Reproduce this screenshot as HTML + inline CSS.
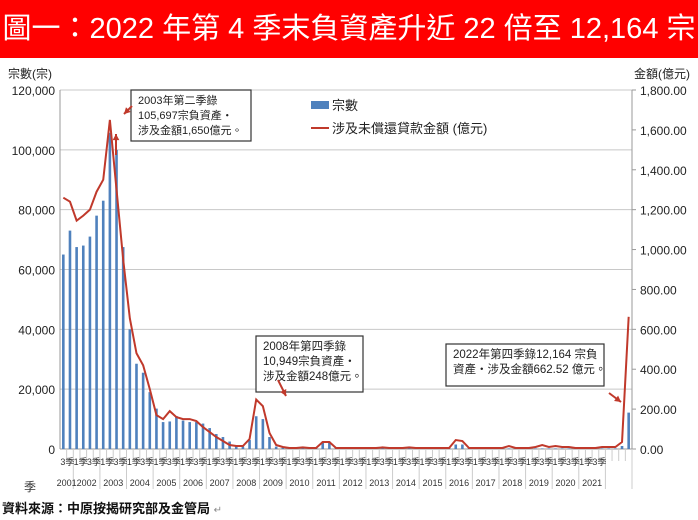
<!DOCTYPE html>
<html><head><meta charset="utf-8"><style>
body{margin:0;width:698px;height:520px;background:#fff;overflow:hidden;font-family:"Liberation Sans","Noto Sans CJK TC",sans-serif;}
#banner{position:absolute;left:0;top:0;width:698px;height:58px;background:#f00;color:#fff;font-size:29px;line-height:58px;text-align:center;letter-spacing:0px;font-family:"Liberation Sans","Noto Sans CJK TC",sans-serif;}
#src{position:absolute;left:2px;top:498px;font-size:13px;font-weight:bold;color:#111;}
</style></head><body>
<div id="banner">圖一：2022 年第 4 季末負資產升近 22 倍至 12,164 宗</div>
<svg id="chart" width="698" height="520" style="position:absolute;left:0;top:0"></svg>
<div id="src">資料來源：中原按揭研究部及金管局 <span style="font-weight:normal;color:#888;font-size:10px">↵</span></div>
<script>
const years=["2001","2002","2003","2004","2005","2006","2007","2008","2009","2010","2011","2012","2013","2014","2015","2016","2017","2018","2019","2020","2021","2022"];
const cases=[65000,73000,
67500,68000,71000,78000,
83000,105697,100000,67500,
40000,28500,25500,19000,
13500,9000,9200,11000,
9500,9000,9000,8500,
7000,5000,4000,2500,
1200,800,3000,10949,
10000,4000,800,400,
300,300,300,300,
300,2500,2500,300,
300,300,300,300,300,300,300,300,300,300,300,300,300,300,300,300,
300,1500,1500,300,
200,200,200,200,200,200,200,200,200,200,200,200,200,200,200,200,200,200,200,200,
200,200,1000,12164];
const amount=[1260,1240,
1145,1170,1200,1290,
1350,1650,1300,950,
655,480,420,300,
170,150,190,160,
150,150,140,110,
85,60,40,20,
15,15,50,248,
215,80,20,10,
5,5,8,5,
5,35,35,5,
5,5,5,5,5,5,8,5,5,5,8,5,5,5,5,5,
5,45,40,5,
5,5,5,5,
5,15,5,5,
5,10,20,10,
15,10,10,5,
5,5,5,10,
10,10,35,662.52];
const leftTicks=[0,20000,40000,60000,80000,100000,120000];
const rightTicks=[0,200,400,600,800,1000,1200,1400,1600,1800];
const NS="http://www.w3.org/2000/svg";
const svg=document.getElementById('chart');
const X0=60,X1=632,Y0=449,Y1=90;
const N=cases.length;
const step=(X1-X0)/N;
const xq=i=>X0+(i+0.5)*step;
const yl=v=>Y0-(v/120000)*(Y0-Y1);
const yr=v=>Y0-(v/1800)*(Y0-Y1);
function el(t,a,txt){const e=document.createElementNS(NS,t);for(const k in a)e.setAttribute(k,a[k]);if(txt!==undefined)e.textContent=txt;svg.appendChild(e);return e;}
// gridlines & left ticks
leftTicks.forEach(v=>{
 const g=el('line',{x1:X0,x2:X1,y1:yl(v),y2:yl(v),stroke:'#c8c8c8','stroke-width':1});
 
 
 const t=el('text',{x:55,y:yl(v)+5,'text-anchor':'end','font-size':12,fill:'#222'},v.toLocaleString('en-US'));
 
 
});
rightTicks.forEach(v=>{
 const tk=el('line',{x1:X1,x2:X1+4,y1:yr(v),y2:yr(v),stroke:'#999'});
 
 
 const t=el('text',{x:640,y:yr(v)+5,'font-size':12,fill:'#222'},v.toLocaleString('en-US',{minimumFractionDigits:2}));
 
 
});
el('line',{x1:X0,x2:X0,y1:Y1,y2:Y0,stroke:'#999'});
el('line',{x1:X1,x2:X1,y1:Y1,y2:Y0,stroke:'#999'});
el('line',{x1:X0,x2:X1,y1:Y0,y2:Y0,stroke:'#999'});
const lt=el('text',{x:8,y:78,'font-size':12,fill:'#222'},'宗數(宗)');

const rt=el('text',{x:690,y:78,'font-size':12,fill:'#222','text-anchor':'end'},'金額(億元)');

// bars
cases.forEach((v,i)=>{
 const b=el('rect',{x:xq(i)-1.3,y:yl(v),width:2.6,height:Y0-yl(v),fill:'#4f81bd'});
 
 
});
// line
const p=el('polyline',{points:amount.map((v,i)=>xq(i)+','+yr(v)).join(' '),fill:'none',stroke:'#c0392b','stroke-width':2});


// x axis category labels
for(let i=0;i<N;i++){
 el('line',{x1:xq(i)+step/2,x2:xq(i)+step/2,y1:Y0,y2:Y0+(((i+2)%4==3)?40:12),stroke:'#ccc'});
}
for(let i=0;i<N;i++){
 const q=(i+2)%4+1;
 const yi=Math.floor((i+2)/4);
 if((q===1||q===3)&&yi<21){
  const t=el('text',{x:xq(i)-3,y:465,'font-size':9,fill:'#333'},q+'季');
  
  
 }
}
years.forEach((y,k)=>{
 if(k>=21)return;
 let s=k===0?0:2+(k-1)*4, e=k===0?2:s+4;
 const cx=(xq(s)+xq(e-1))/2;
 const t=el('text',{x:cx,y:486,'font-size':9,'text-anchor':'middle',fill:'#333'},y);
 
 
});
const jt=el('text',{x:24,y:491,'font-size':12,fill:'#333'},'季');

// legend
const lg1=el('rect',{x:311,y:101,width:18,height:8,fill:'#4f81bd'});

el('text',{x:332,y:110,'font-size':13,fill:'#222'},'宗數');
const lg2=el('line',{x1:311,x2:329,y1:128,y2:128,stroke:'#c0392b','stroke-width':2});

el('text',{x:332,y:133,'font-size':13,fill:'#222'},'涉及未償還貸款金額 (億元)');
// annotations
function box(x,y,w,h,lines,fs){
 const r=el('rect',{x:x,y:y,width:w,height:h,fill:'#fff',stroke:'#333','stroke-width':1.2});
 
 lines.forEach((l,i)=>el('text',{x:x+7,y:y+14+i*15,'font-size':fs,fill:'#222'},l));
}
box(131,90,120,51,['2003年第二季錄','105,697宗負資產・','涉及金額1,650億元。'],11);
box(256,336,107,56,['2008年第四季錄','10,949宗負資產・','涉及金額248億元。'],11.5);
box(446,344,158,42,['2022年第四季錄12,164 宗負','資產・涉及金額662.52 億元。'],11.5);
function arrow(x1,y1,x2,y2){
 el('line',{x1:x1,y1:y1,x2:x2,y2:y2,stroke:'#c0392b','stroke-width':2});
 const a=Math.atan2(y2-y1,x2-x1),L=7;
 el('polygon',{points:`${x2},${y2} ${x2-L*Math.cos(a-0.5)},${y2-L*Math.sin(a-0.5)} ${x2-L*Math.cos(a+0.5)},${y2-L*Math.sin(a+0.5)}`,fill:'#c0392b'});
}
arrow(132,106,124,114);
arrow(116,155,116,134);
arrow(278,380,286,396);
arrow(609,393,621,402);
</script>
</body></html>
